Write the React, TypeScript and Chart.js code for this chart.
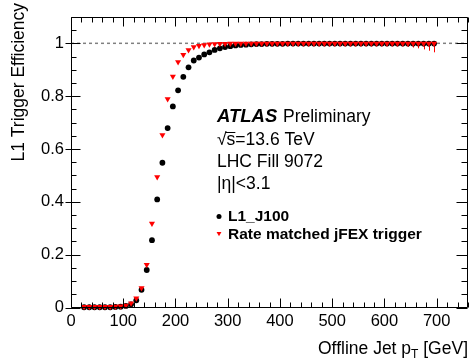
import { useEffect, useRef } from 'react';
import { Chart, registerables } from 'chart.js';

Chart.register(...registerables);

// ---- data ----
const ptBins = [
  25, 35, 45, 55, 65, 75, 85, 95,
  105, 115, 125, 135, 145, 155, 165, 175, 185, 195,
  205, 215, 225, 235, 245, 255, 265, 275, 285, 295,
  305, 315, 325, 335, 345, 355, 365, 375, 385, 395,
  405, 415, 425, 435, 445, 455, 465, 475, 485, 495,
  505, 515, 525, 535, 545, 555, 565, 575, 585, 595,
  605, 615, 625, 635, 645, 655, 665, 675, 685, 695,
];

const l1J100Eff = [
  0.001, 0.001, 0.001, 0.001, 0.001, 0.001, 0.002, 0.003,
  0.006, 0.012, 0.027, 0.067, 0.142, 0.255, 0.409, 0.548, 0.679, 0.761,
  0.822, 0.873, 0.909, 0.935, 0.946, 0.958, 0.966, 0.975, 0.981, 0.986,
  0.989, 0.992, 0.994, 0.995, 0.996, 0.997, 0.997, 0.998, 0.998, 0.998,
  0.998, 0.999, 0.999, 0.999, 0.999, 0.999, 0.999, 0.999, 0.999, 0.999,
  0.999, 0.999, 0.999, 0.999, 0.999, 0.999, 0.999, 0.999, 0.999, 0.999,
  0.999, 0.999, 0.999, 0.999, 0.999, 0.999, 0.999, 0.999, 0.999, 0.999,
];

const jfexEff = [
  0.003, 0.003, 0.003, 0.003, 0.003, 0.003, 0.004, 0.005,
  0.008, 0.016, 0.035, 0.074, 0.162, 0.318, 0.494, 0.653, 0.789, 0.874,
  0.929, 0.957, 0.975, 0.986, 0.991, 0.994, 0.996, 0.997, 0.998, 0.998,
  0.999, 0.999, 0.999, 0.999, 0.999, 0.999, 0.999, 0.999, 0.999, 0.999,
  0.999, 0.999, 0.999, 0.999, 0.999, 0.999, 0.999, 0.999, 0.999, 0.999,
  0.999, 0.999, 0.999, 0.999, 0.999, 0.999, 0.999, 0.999, 0.999, 0.999,
  0.999, 0.999, 0.999, 0.999, 0.999, 0.999, 0.999, 0.999, 0.999, 0.999,
];

const jfexErrLow = [
  0, 0, 0, 0, 0, 0, 0, 0,
  0, 0, 0, 0, 0, 0, 0, 0, 0, 0,
  0, 0, 0, 0, 0, 0, 0, 0, 0, 0,
  0, 0, 0, 0, 0, 0, 0, 0, 0, 0,
  0, 0, 0, 0, 0, 0, 0, 0, 0, 0,
  0, 0, 0, 0, 0, 0, 0, 0, 0, 0,
  0.004, 0.006, 0.008, 0.01, 0.012, 0.015, 0.018, 0.022, 0.027, 0.033,
];

const xTickValues = [0, 100, 200, 300, 400, 500, 600, 700];
const yTickValues = [0, 0.2, 0.4, 0.6, 0.8, 1];
const xRange = [0, 760];
const yRange = [0, 1.1];
const refLineValue = 1;

const seriesNames = ['L1_J100', 'Rate matched jFEX trigger'];
const infoLines = ['√s=13.6 TeV', 'LHC Fill 9072', '|η|<3.1'];
const xTitle = ['Offline Jet p', 'T', ' [GeV]'];
const yTitle = 'L1 Trigger Efficiency';

const FONT = '"Liberation Sans", Arial, Helvetica, sans-serif';
const RED = '#ff0000';

const rootFrame = {
  id: 'rootFrame',
  beforeDatasetsDraw(chart: any) {
    const { ctx, chartArea: a, scales } = chart;
    const x = scales.x;
    const y = scales.y;
    ctx.save();
    const y1 = y.getPixelForValue(refLineValue);
    ctx.strokeStyle = '#808080';
    ctx.lineWidth = 1.5;
    ctx.setLineDash([3, 3]);
    ctx.beginPath();
    ctx.moveTo(a.left, y1);
    ctx.lineTo(a.right, y1);
    ctx.stroke();
    ctx.setLineDash([]);
    ctx.strokeStyle = RED;
    ctx.lineWidth = 1;
    ptBins.forEach((pt, i) => {
      const e = jfexErrLow[i];
      if (!e) return;
      const px = Math.round(x.getPixelForValue(pt)) + 0.5;
      ctx.beginPath();
      ctx.moveTo(px, y.getPixelForValue(jfexEff[i]));
      ctx.lineTo(px, y.getPixelForValue(jfexEff[i] - e));
      ctx.stroke();
    });
    ctx.restore();
  },
  afterDraw(chart: any) {
    const { ctx, chartArea: a, scales } = chart;
    const x = scales.x;
    const y = scales.y;
    ctx.save();
    ctx.strokeStyle = '#000';
    ctx.lineWidth = 1;
    const L = Math.round(a.left) + 0.5;
    const R = Math.round(a.right) - 0.5;
    const T = Math.round(a.top) + 0.5;
    const B = Math.round(a.bottom) - 0.5;
    ctx.beginPath();
    ctx.rect(L, T, R - L, B - T);
    ctx.stroke();
    ctx.beginPath();
    // x ticks every 20
    for (let i = 0; i <= 38; i++) {
      const v = i * 20;
      const px = Math.round(x.getPixelForValue(v)) + 0.5;
      const major = v % 100 === 0;
      const len = major ? 9 : 5;
      ctx.moveTo(px, B);
      ctx.lineTo(px, B - len);
      ctx.moveTo(px, T);
      ctx.lineTo(px, T + len);
    }
    // y ticks every 0.05
    for (let i = 0; i <= 22; i++) {
      const v = i * 0.05;
      const py = Math.round(y.getPixelForValue(v)) + 0.5;
      const major = i % 4 === 0;
      ctx.moveTo(major ? L - 6 : L, py);
      ctx.lineTo(L + (major ? 9 : 5), py);
      ctx.moveTo(R, py);
      ctx.lineTo(R - (major ? 11 : 6), py);
    }
    ctx.stroke();

    // text block
    ctx.fillStyle = '#000';
    ctx.textAlign = 'left';
    ctx.textBaseline = 'alphabetic';
    ctx.font = `italic bold 18.5px ${FONT}`;
    ctx.fillText('ATLAS', 217, 122);
    ctx.font = `17.5px ${FONT}`;
    ctx.fillText('Preliminary', 283, 122);

    // sqrt(s) with overline
    const tx = 217;
    const wSq = ctx.measureText('√').width;
    const wS = ctx.measureText('s').width;
    ctx.fillText('√', tx, 145);
    ctx.fillText('s' + infoLines[0].slice(2), tx + wSq, 145);
    ctx.beginPath();
    ctx.lineWidth = 1;
    ctx.moveTo(tx + wSq - 1, 132.5);
    ctx.lineTo(tx + wSq + wS, 132.5);
    ctx.stroke();
    ctx.fillText(infoLines[1], tx, 167);
    ctx.fillText(infoLines[2], tx, 188.5);

    // legend
    ctx.font = `bold 15.5px ${FONT}`;
    ctx.fillText(seriesNames[0], 228, 221);
    ctx.fillText(seriesNames[1], 228, 238.5);
    ctx.beginPath();
    ctx.arc(219, 216.5, 2.5, 0, Math.PI * 2);
    ctx.fill();
    ctx.fillStyle = RED;
    const r = 2.8;
    const cy = 233.5;
    ctx.beginPath();
    ctx.moveTo(219, cy + r);
    ctx.lineTo(219 - r * 0.866, cy - r / 2);
    ctx.lineTo(219 + r * 0.866, cy - r / 2);
    ctx.closePath();
    ctx.fill();

    // axis titles
    ctx.fillStyle = '#000';
    ctx.font = `17.5px ${FONT}`;
    const w1 = ctx.measureText(xTitle[0]).width;
    const w3 = ctx.measureText(xTitle[2]).width;
    ctx.font = `12px ${FONT}`;
    const w2 = ctx.measureText(xTitle[1]).width;
    const xEnd = 468;
    const xs = xEnd - w1 - w2 - w3;
    ctx.font = `17.5px ${FONT}`;
    ctx.fillText(xTitle[0], xs, 354);
    ctx.fillText(xTitle[2], xs + w1 + w2, 354);
    ctx.font = `12px ${FONT}`;
    ctx.fillText(xTitle[1], xs + w1, 358);

    ctx.font = `17.5px ${FONT}`;
    ctx.translate(24, 3);
    ctx.rotate(-Math.PI / 2);
    ctx.textAlign = 'right';
    ctx.fillText(yTitle, 0, 0);
    ctx.restore();
  },
};

export default function App() {
  const ref = useRef<HTMLCanvasElement>(null);
  useEffect(() => {
    if (!ref.current) return;
    const chart = new Chart(ref.current, {
      type: 'scatter',
      data: {
        datasets: [
          {
            label: seriesNames[1],
            data: ptBins.map((p, i) => ({ x: p, y: jfexEff[i] })),
            pointStyle: 'triangle',
            rotation: 180,
            radius: 3.5,
            backgroundColor: RED,
            borderColor: RED,
            borderWidth: 0,
            order: 0,
            clip: false,
          } as any,
          {
            label: seriesNames[0],
            data: ptBins.map((p, i) => ({ x: p, y: l1J100Eff[i] })),
            pointStyle: 'circle',
            radius: 2.9,
            backgroundColor: '#000',
            borderColor: '#000',
            borderWidth: 0,
            order: 1,
            clip: false,
          } as any,
        ],
      },
      options: {
        responsive: false,
        animation: false,
        devicePixelRatio: 1,
        events: [],
        layout: { padding: { left: 0, right: 3, top: 6.5, bottom: 0 } },
        plugins: { legend: { display: false }, tooltip: { enabled: false } },
        scales: {
          x: {
            type: 'linear',
            min: xRange[0],
            max: xRange[1],
            grid: { display: false, drawTicks: false },
            border: { display: false },
            ticks: {
              padding: 4,
              color: '#000',
              maxRotation: 0,
              autoSkip: false,
              font: { family: FONT, size: 16.5 },
              callback: (v: any) => String(v),
            },
            afterBuildTicks: (s: any) => {
              s.ticks = xTickValues.map((v) => ({ value: v }));
            },
            afterFit: (s: any) => {
              s.height = 51.5;
            },
          },
          y: {
            type: 'linear',
            min: yRange[0],
            max: yRange[1],
            grid: { display: false, drawTicks: false },
            border: { display: false },
            ticks: {
              padding: 7,
              color: '#000',
              autoSkip: false,
              font: { family: FONT, size: 16.5 },
              callback: (v: any) => String(Math.round(v * 10) / 10),
            },
            afterBuildTicks: (s: any) => {
              s.ticks = yTickValues.map((v) => ({ value: v }));
            },
            afterFit: (s: any) => {
              s.width = 71;
            },
          },
        },
      },
      plugins: [rootFrame],
    });
    return () => chart.destroy();
  }, []);
  return (
    <div style={{ position: 'fixed', left: 0, top: 0, width: 472, height: 359, background: '#fff' }}>
      <canvas ref={ref} width={472} height={359} />
    </div>
  );
}
